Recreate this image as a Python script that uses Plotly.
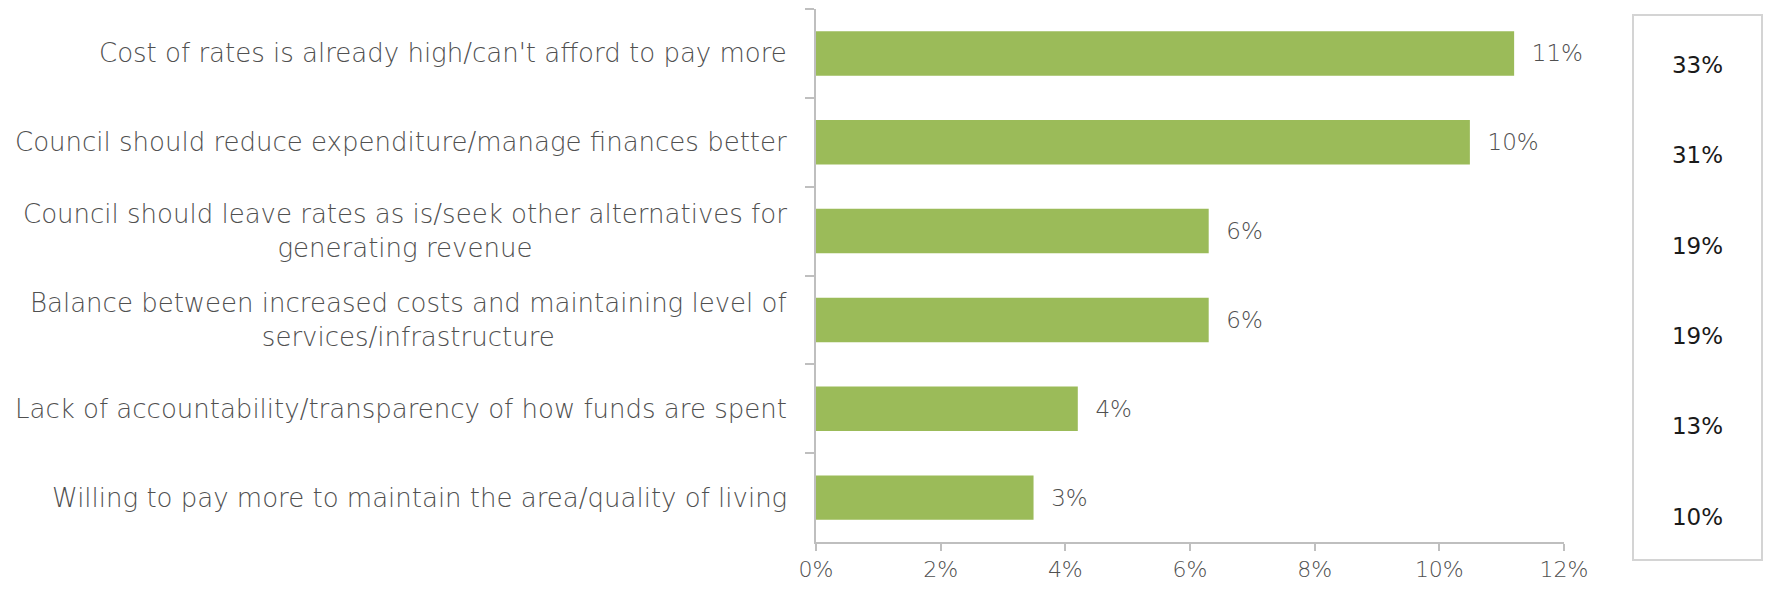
import plotly.graph_objects as go

# Reasons given for the rates preference (share of all respondents)
categories = [
    "Cost of rates is already high/can't afford to pay more",
    "Council should reduce expenditure/manage finances better",
    "Council should leave rates as is/seek other alternatives for<br>generating revenue",
    "Balance between increased costs and maintaining level of<br>services/infrastructure",
    "Lack of accountability/transparency of how funds are spent",
    "Willing to pay more to maintain the area/quality of living",
]
share_all = [0.112, 0.1049, 0.063, 0.063, 0.042, 0.0349]
# Same reasons as a share of those who gave a reason
share_of_reasons = ["33%", "31%", "19%", "19%", "13%", "10%"]
x_ticks = [0, 0.02, 0.04, 0.06, 0.08, 0.10, 0.12]

GREEN = "#9bbb59"
GREY_TEXT = "#505050"
AXIS = "#bfbfbf"
FONT = "DejaVu Sans"

W, H = 1768, 591
M_L, M_R, M_T, M_B = 816, 0, 9, 49
plot_w = W - M_L - M_R
plot_h = H - M_T - M_B
main_end = 748 / plot_w
box_x0 = (1633 - M_L) / plot_w
box_x1 = (1762 - M_L) / plot_w
box_y0 = (H - M_B - 560) / plot_h
box_y1 = (H - M_B - 15) / plot_h

fig = go.Figure()

fig.add_trace(go.Bar(
    x=share_all,
    y=categories,
    orientation="h",
    marker=dict(color=GREEN, line=dict(width=0)),
    texttemplate="\u00a0\u00a0%{x:.0%}",
    textposition="outside",
    cliponaxis=False,
    textfont=dict(family=FONT, size=23, color=GREY_TEXT, weight=200),
    hoverinfo="skip",
))

fig.add_trace(go.Scatter(
    x=[0.5] * len(categories),
    y=categories,
    mode="text",
    text=share_of_reasons,
    textposition="middle center",
    textfont=dict(family=FONT, size=23, color="#1a1a1a"),
    xaxis="x2",
    yaxis="y2",
    hoverinfo="skip",
))

# Category labels, centred line by line and right-aligned against the axis
for cat in categories:
    fig.add_annotation(
        x=0, xref="paper", xanchor="right", xshift=-27,
        y=cat, yref="y", yanchor="middle",
        text=cat, showarrow=False, align="center",
        font=dict(family=FONT, size=26, color=GREY_TEXT, weight=200),
    )

# Frame around the second column of figures
fig.add_shape(
    type="rect", xref="paper", yref="paper",
    x0=box_x0, x1=box_x1, y0=box_y0, y1=box_y1,
    line=dict(color="#d4d4d4", width=2), fillcolor="rgba(0,0,0,0)",
)

fig.update_layout(
    width=W, height=H,
    margin=dict(l=M_L, r=M_R, t=M_T, b=M_B, pad=0, autoexpand=False),
    paper_bgcolor="white", plot_bgcolor="white",
    showlegend=False,
    bargap=0.5,
    xaxis=dict(
        domain=[0, main_end], range=[0, 0.12],
        tickvals=x_ticks, tickformat=".0%",
        showgrid=False, zeroline=False, automargin=False,
        showline=True, linecolor=AXIS, linewidth=2,
        ticks="outside", ticklen=7, tickcolor=AXIS, tickwidth=2,
        tickfont=dict(family=FONT, size=22, color=GREY_TEXT, weight=200),
        anchor="y",
    ),
    yaxis=dict(
        autorange="reversed", type="category", automargin=False,
        showticklabels=False, showgrid=False, zeroline=False,
        showline=True, linecolor=AXIS, linewidth=2,
        ticks="outside", ticklen=9, tickcolor=AXIS, tickwidth=2,
        tickson="boundaries",
        anchor="x",
    ),
    xaxis2=dict(domain=[box_x0, box_x1], range=[0, 1], visible=False,
                anchor="y2", automargin=False),
    yaxis2=dict(
        domain=[0, 1], type="category", automargin=False,
        range=[5.254, -0.642], visible=False, anchor="x2",
    ),
)

fig.write_html("out.html")
